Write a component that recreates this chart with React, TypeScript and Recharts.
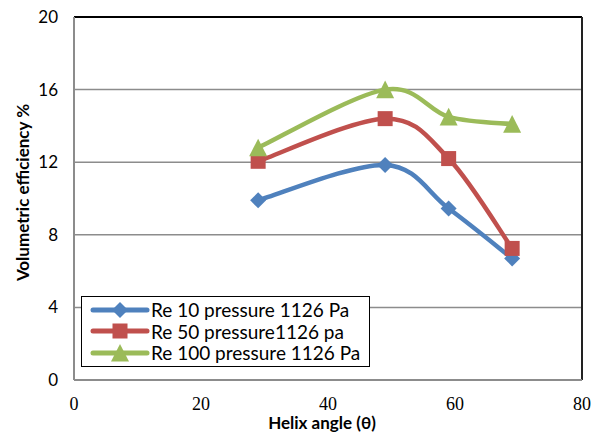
import React from "react";
import { LineChart, Line, XAxis, YAxis, CartesianGrid, ReferenceLine, Legend, Label } from "recharts";

const helixAngles = [29, 49, 59, 69];
const re10 = [9.9, 11.85, 9.45, 6.7];
const re50 = [12.05, 14.4, 12.2, 7.25];
const re100 = [12.8, 16.0, 14.5, 14.1];
const xTicks = [0, 20, 40, 60, 80];
const yTicks = [0, 4, 8, 12, 16, 20];
const seriesNames = ["Re 10 pressure 1126 Pa", "Re 50 pressure1126 pa", "Re 100 pressure 1126 Pa"];

const data = helixAngles.map((x, i) => ({ x, re10: re10[i], re50: re50[i], re100: re100[i] }));

const BLUE = "#4F81BD";
const RED = "#C0504D";
const GREEN = "#9BBB59";
const SANS = "Lato, 'Noto Sans', sans-serif";
const SERIF = "'Liberation Serif', 'DejaVu Serif', serif";

const excelSmooth = (context: any) => {
  let xs: number[] = [];
  let ys: number[] = [];
  return {
    areaStart() {},
    areaEnd() {},
    lineStart() {
      xs = [];
      ys = [];
    },
    point(x: number, y: number) {
      xs.push(+x);
      ys.push(+y);
    },
    lineEnd() {
      const n = xs.length;
      if (!n) return;
      context.moveTo(xs[0], ys[0]);
      for (let i = 0; i < n - 1; i++) {
        const i0 = Math.max(0, i - 1);
        const i3 = Math.min(n - 1, i + 2);
        const c1x = xs[i] + (xs[i + 1] - xs[i0]) / 6;
        const c1y = ys[i] + (ys[i + 1] - ys[i0]) / 6;
        const c2x = xs[i + 1] - (xs[i3] - xs[i]) / 6;
        const c2y = ys[i + 1] - (ys[i3] - ys[i]) / 6;
        context.bezierCurveTo(c1x, c1y, c2x, c2y, xs[i + 1], ys[i + 1]);
      }
    },
  };
};

const Marker = ({ kind, cx, cy, color }: { kind: string; cx: number; cy: number; color: string }) => {
  if (kind === "diamond") {
    const r = 8;
    return <path d={`M${cx},${cy - r}L${cx + r},${cy}L${cx},${cy + r}L${cx - r},${cy}Z`} fill={color} />;
  }
  if (kind === "square") {
    const s = 7.5;
    return <rect x={cx - s} y={cy - s} width={2 * s} height={2 * s} fill={color} />;
  }
  const h = 9;
  return <path d={`M${cx},${cy - h}L${cx + h},${cy + h * 0.95}L${cx - h},${cy + h * 0.95}Z`} fill={color} />;
};

const makeDot = (kind: string, color: string) => (props: any) => {
  const { cx, cy, index } = props;
  if (cx == null || cy == null) return <g key={index} />;
  return <g key={index}><Marker kind={kind} cx={cx} cy={cy} color={color} /></g>;
};

const legendItems = [
  { name: seriesNames[0], color: BLUE, kind: "diamond" },
  { name: seriesNames[1], color: RED, kind: "square" },
  { name: seriesNames[2], color: GREEN, kind: "triangle" },
];

const LegendContent = () => (
  <div
    style={{
      border: "1.5px solid #000",
      background: "#fff",
      padding: "2px 9px 2px 8px",
      fontFamily: SANS,
      fontSize: 19,
      color: "#000",
      whiteSpace: "nowrap",
    }}
  >
    {legendItems.map((it) => (
      <div key={it.name} style={{ display: "flex", alignItems: "center", height: 21.5 }}>
        <svg width={60} height={20} style={{ marginRight: 1 }}>
          <line x1={3} y1={10} x2={57} y2={10} stroke={it.color} strokeWidth={5} strokeLinecap="round" />
          <Marker kind={it.kind} cx={30} cy={10} color={it.color} />
        </svg>
        <span>{it.name}</span>
      </div>
    ))}
  </div>
);

export default function App() {
  return (
    <div style={{ position: "absolute", left: 0, top: 0 }}>
      <LineChart width={603} height={434} data={data} margin={{ top: 17, right: 21, left: 0, bottom: 0 }}>
        <CartesianGrid vertical={false} stroke="#8c8c8c" strokeWidth={1.5} />
        <XAxis
          dataKey="x"
          type="number"
          domain={[0, 80]}
          ticks={xTicks}
          height={54}
          tickLine={false}
          tickSize={6}
          tickMargin={11}
          axisLine={{ stroke: "#8c8c8c", strokeWidth: 2 }}
          tick={{ fill: "#000", fontFamily: SERIF, fontSize: 18 }}
        >
          <Label value="Helix angle (θ)" position="center" dx={-6} dy={16} style={{ fontFamily: SANS, fontWeight: 700, fontSize: 17, fill: "#000" }} />
        </XAxis>
        <YAxis
          type="number"
          domain={[0, 20]}
          ticks={yTicks}
          width={74}
          tickLine={false}
          tickSize={6}
          tickMargin={10}
          axisLine={{ stroke: "#8c8c8c", strokeWidth: 2 }}
          tick={{ fill: "#000", fontFamily: SANS, fontSize: 17 }}
        >
          <Label value="Volumetric efficiency %" angle={-90} position="center" dx={-14} dy={-6} style={{ fontFamily: SANS, fontWeight: 700, fontSize: 17, fill: "#000", textAnchor: "middle" }} />
        </YAxis>
        <ReferenceLine y={20} stroke="#000" strokeWidth={2} />
        <ReferenceLine x={80} stroke="#222" strokeWidth={2} />
        <Line dataKey="re10" name={seriesNames[0]} type={excelSmooth as any} stroke={BLUE} strokeWidth={4.5} dot={makeDot("diamond", BLUE)} activeDot={false} isAnimationActive={false} />
        <Line dataKey="re50" name={seriesNames[1]} type={excelSmooth as any} stroke={RED} strokeWidth={4.5} dot={makeDot("square", RED)} activeDot={false} isAnimationActive={false} />
        <Line dataKey="re100" name={seriesNames[2]} type={excelSmooth as any} stroke={GREEN} strokeWidth={4.5} dot={makeDot("triangle", GREEN)} activeDot={false} isAnimationActive={false} />
        <Legend
          layout="vertical"
          align="center"
          verticalAlign="middle"
          content={<LegendContent />}
          wrapperStyle={{ left: 81, top: 296, width: "auto", height: "auto" }}
        />
      </LineChart>
    </div>
  );
}
